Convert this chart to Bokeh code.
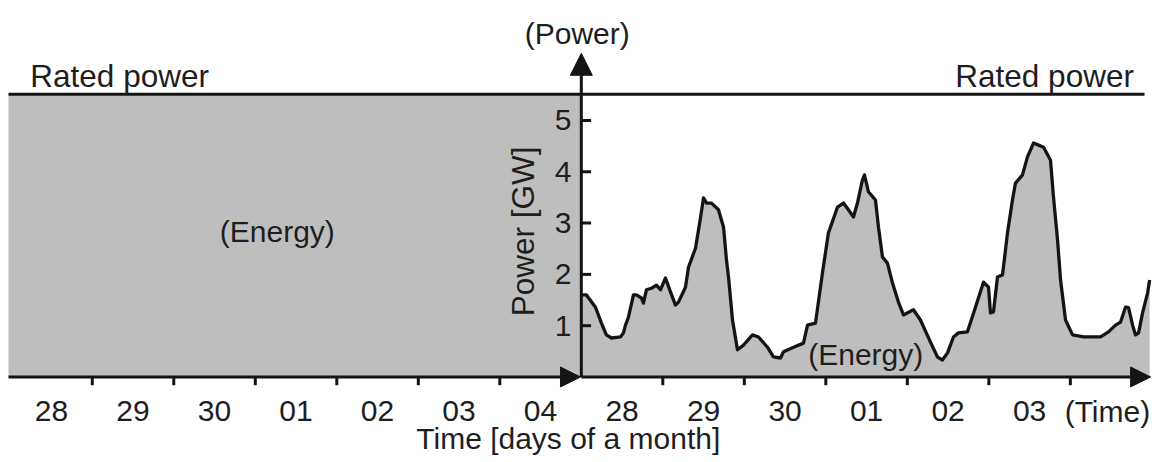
from bokeh.plotting import figure
from bokeh.models import Range1d, Arrow, NormalHead, ColumnDataSource
from bokeh.core.properties import value
from bokeh.embed import file_html
from bokeh.resources import INLINE

# ---------------- data ----------------
day_labels = ["28", "29", "30", "01", "02", "03", "04"]
right_day_labels = ["28", "29", "30", "01", "02", "03"]
y_ticks = [1, 2, 3, 4, 5]
rated_power = 5.51  # GW

# time offset (days) inside the right-hand week, and measured power (GW)
curve_day = [0.002, 0.063, 0.174, 0.247, 0.308, 0.370, 0.480, 0.517, 0.542, 0.579,
             0.640, 0.677, 0.738, 0.762, 0.799, 0.861, 0.922, 0.971, 1.033, 1.094,
             1.155, 1.192, 1.278, 1.315, 1.401, 1.462, 1.499, 1.536, 1.597, 1.683,
             1.745, 1.781, 1.806, 1.855, 1.916, 1.990, 2.100, 2.174, 2.284, 2.357,
             2.444, 2.481, 2.590, 2.726, 2.775, 2.873, 2.959, 3.032, 3.143, 3.216,
             3.277, 3.339, 3.388, 3.449, 3.474, 3.523, 3.609, 3.646, 3.695, 3.756,
             3.818, 3.891, 3.952, 4.075, 4.161, 4.284, 4.370, 4.431, 4.493, 4.566,
             4.627, 4.738, 4.836, 4.935, 4.996, 5.020, 5.057, 5.106, 5.168, 5.229,
             5.290, 5.327, 5.413, 5.474, 5.548, 5.610, 5.671, 5.756, 5.793, 5.843,
             5.880, 5.941, 6.027, 6.162, 6.371, 6.468, 6.555, 6.616, 6.677, 6.714,
             6.764, 6.800, 6.837, 6.886, 6.948, 6.973]
curve_gw = [1.60, 1.60, 1.36, 1.05, 0.82, 0.76, 0.78, 0.86, 1.01, 1.17,
            1.60, 1.60, 1.54, 1.44, 1.70, 1.73, 1.79, 1.70, 1.93, 1.66,
            1.40, 1.46, 1.75, 2.14, 2.51, 3.10, 3.49, 3.39, 3.39, 3.26,
            2.92, 2.28, 1.95, 1.11, 0.53, 0.62, 0.82, 0.78, 0.58, 0.39,
            0.37, 0.49, 0.57, 0.66, 1.01, 1.05, 2.03, 2.81, 3.31, 3.39,
            3.26, 3.12, 3.39, 3.84, 3.94, 3.61, 3.45, 2.92, 2.34, 2.22,
            1.83, 1.46, 1.21, 1.31, 1.11, 0.68, 0.39, 0.33, 0.47, 0.78,
            0.86, 0.88, 1.36, 1.85, 1.75, 1.25, 1.27, 1.95, 1.99, 2.81,
            3.45, 3.78, 3.94, 4.29, 4.56, 4.52, 4.48, 4.23, 3.51, 2.67,
            1.89, 1.11, 0.82, 0.78, 0.78, 0.88, 1.01, 1.07, 1.36, 1.35,
            1.01, 0.82, 0.86, 1.25, 1.64, 1.89]

# ---------------- styling ----------------
INK = "#141414"
GRAY = "#bebebe"
FONT = value("Liberation Sans")
FS = value("30px")
FS_BIG = value("31.5px")
WEEK = 7.0
X0 = -0.028   # left edge of the drawing

p = figure(width=1152, height=460, x_range=Range1d(-0.126, 14.008), y_range=Range1d(-1.628, 7.339),
           output_backend="svg", toolbar_location=None, min_border=0)
p.min_border_left = p.min_border_right = p.min_border_top = p.min_border_bottom = 0
p.axis.visible = False
p.grid.visible = False
p.outline_line_color = None
p.background_fill_color = "white"
p.border_fill_color = "white"

# left panel: full energy at rated power
p.quad(left=[X0], right=[WEEK], bottom=[0], top=[rated_power], fill_color=GRAY, line_color=None)

# right panel: measured power
src = ColumnDataSource(dict(x=[WEEK + d for d in curve_day], y=curve_gw, zero=[0] * len(curve_gw)))
p.varea(x="x", y1="zero", y2="y", source=src, fill_color=GRAY)
p.line(x="x", y="y", source=src, line_color=INK, line_width=3.3, line_join="round")

# rated power line
p.line(x=[X0, 13.91], y=[rated_power, rated_power], line_color=INK, line_width=3)

# axes with arrows
p.add_layout(Arrow(end=NormalHead(size=22, fill_color=INK, line_color=INK), x_start=WEEK, y_start=0,
                   x_end=WEEK, y_end=6.31, line_color=INK, line_width=3))
p.add_layout(Arrow(end=NormalHead(size=20, fill_color=INK, line_color=INK), x_start=X0, y_start=0,
                   x_end=6.99, y_end=0, line_color=INK, line_width=3))
p.add_layout(Arrow(end=NormalHead(size=20, fill_color=INK, line_color=INK), x_start=WEEK, y_start=0,
                   x_end=13.985, y_end=0, line_color=INK, line_width=3))

# x ticks at day boundaries
xt = [i for i in range(1, 7)] + [WEEK + i for i in range(1, 7)]
p.segment(x0=xt, y0=[0] * len(xt), x1=xt, y1=[-0.16] * len(xt), line_color=INK, line_width=3)
# y ticks
p.segment(x0=[WEEK] * len(y_ticks), y0=y_ticks, x1=[WEEK + 0.12] * len(y_ticks), y1=y_ticks,
          line_color=INK, line_width=3)

txt = dict(text_font=FONT, text_font_size=FS, text_color="#1e1e1e")
txt_big = dict(text_font=FONT, text_font_size=FS_BIG, text_color="#1e1e1e")

# x tick labels (centred in each day)
p.text(x=[i + 0.5 for i in range(7)], y=[-0.67] * 7, text=day_labels,
       text_align="center", text_baseline="alphabetic", **txt)
p.text(x=[WEEK + i + 0.5 for i in range(6)], y=[-0.67] * 6, text=right_day_labels,
       text_align="center", text_baseline="alphabetic", **txt)
p.text(x=[13.455], y=[-0.67], text=["(Time)"], text_align="center", text_baseline="alphabetic", **txt)

# y tick labels
p.text(x=[6.88] * len(y_ticks), y=y_ticks, text=[str(v) for v in y_ticks],
       text_align="right", text_baseline="middle", **txt)

# titles and annotations
p.text(x=[6.84], y=[-1.19], text=["Time [days of a month]"], text_align="center",
       text_baseline="alphabetic", **txt)
p.text(x=[6.29], y=[2.84], text=["Power [GW]"], angle=1.5707963, text_align="center",
       text_baseline="alphabetic", **txt_big)
p.text(x=[6.95], y=[6.70], text=["(Power)"], text_align="center", text_baseline="alphabetic", **txt)
p.text(x=[0.24], y=[5.86], text=["Rated power"], text_align="left", text_baseline="alphabetic", **txt_big)
p.text(x=[13.78], y=[5.86], text=["Rated power"], text_align="right", text_baseline="alphabetic", **txt_big)
p.text(x=[3.27], y=[2.84], text=["(Energy)"], text_align="center", text_baseline="alphabetic", **txt)
p.text(x=[10.49], y=[0.44], text=["(Energy)"], text_align="center", text_baseline="alphabetic", **txt)

open("out.html", "w").write(file_html(p, INLINE))
